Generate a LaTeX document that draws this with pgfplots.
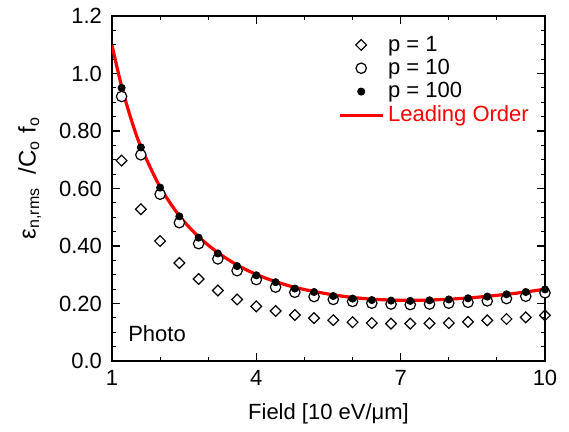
\documentclass[border=0pt]{standalone}
\usepackage{fontspec}
\setmainfont{Liberation Sans}
\usepackage{pgfplots}
\pgfplotsset{compat=1.18}

\begin{document}
\begin{tikzpicture}[font=\fontsize{11}{13}\selectfont]
\begin{axis}[
    scale only axis,
    width=216.5pt, height=172.5pt,
    xmin=1, xmax=10, ymin=0, ymax=1.2,
    xtick={1,4,7,10}, xticklabels={1,4,7,10},
    minor xtick={2,3,5,6,8,9},
    ytick={0,0.2,0.4,0.6,0.8,1.0,1.2},
    yticklabels={0.0,0.20,0.40,0.60,0.80,1.0,1.2},
    minor y tick num=3,
    tick align=inside,
    major tick length=4pt, minor tick length=2pt,
    axis line style={line width=0.75pt},
    tick style={line width=0.6pt, black},
    /pgf/number format/assume math mode=true,
    yticklabel style={xshift=-1.5pt},
    xticklabel style={yshift=-1pt},
    xlabel={Field [10 eV/μm]},
    xlabel style={yshift=-2pt},
    ylabel={ε\textsubscript{n,rms}~ /C\textsubscript{o}~f\textsubscript{o}},
    ylabel style={at={(axis description cs:-0.19,0.53)}, anchor=center,
        font=\fontsize{12}{14}\selectfont},
    legend style={at={(axis cs:5.57,1.16)}, anchor=north west,
        draw=none, fill=none, row sep=-1.5pt},
    legend cell align=left,
    legend image code/.code={%
        \draw[mark repeat=2,mark phase=2,#1]
        plot coordinates {(0cm,0cm) (0.375cm,0cm) (0.75cm,0cm)};},
]
% leading order curve (drawn first, under the markers)
\addplot[red, line width=1.6pt, smooth, forget plot] coordinates {
(1.0,1.098) (1.2,0.955) (1.4,0.840) (1.6,0.745) (2.0,0.605) (2.4,0.505)
(2.8,0.432) (3.2,0.377) (3.6,0.334) (4.0,0.301) (4.4,0.276) (4.8,0.256)
(5.2,0.242) (5.6,0.230) (6.0,0.221) (6.4,0.215) (6.8,0.212) (7.2,0.211)
(7.6,0.212) (8.0,0.215) (8.4,0.219) (8.8,0.225) (9.2,0.232) (9.6,0.240)
(10.0,0.250)};

% p = 1
\addplot[only marks, black, mark=square, mark size=1.9pt,
    mark options={rotate=45, fill=white, line width=0.6pt}] coordinates {
(1.2,0.697) (1.6,0.528) (2.0,0.417) (2.4,0.341) (2.8,0.285) (3.2,0.245)
(3.6,0.214) (4.0,0.190) (4.4,0.174) (4.8,0.160) (5.2,0.149) (5.6,0.142)
(6.0,0.135) (6.4,0.132) (6.8,0.130) (7.2,0.130) (7.6,0.131) (8.0,0.132)
(8.4,0.136) (8.8,0.141) (9.2,0.146) (9.6,0.152) (10.0,0.159)};
\addlegendentry{p = 1}

% p = 10
\addplot[only marks, black, mark=*, mark size=2.6pt,
    mark options={fill=white, draw=black, line width=0.6pt}] coordinates {
(1.2,0.920) (1.6,0.717) (2.0,0.580) (2.4,0.481) (2.8,0.408) (3.2,0.355)
(3.6,0.314) (4.0,0.283) (4.4,0.257) (4.8,0.239) (5.2,0.224) (5.6,0.214)
(6.0,0.207) (6.4,0.201) (6.8,0.198) (7.2,0.196) (7.6,0.198) (8.0,0.201)
(8.4,0.204) (8.8,0.209) (9.2,0.217) (9.6,0.225) (10.0,0.237)};
\addlegendentry{p = 10}

% p = 100
\addplot[only marks, black, mark=*, mark size=1.8pt] coordinates {
(1.2,0.950) (1.6,0.743) (2.0,0.603) (2.4,0.503) (2.8,0.429) (3.2,0.374)
(3.6,0.330) (4.0,0.298) (4.4,0.274) (4.8,0.252) (5.2,0.240) (5.6,0.226)
(6.0,0.217) (6.4,0.212) (6.8,0.210) (7.2,0.209) (7.6,0.211) (8.0,0.214)
(8.4,0.218) (8.8,0.224) (9.2,0.232) (9.6,0.240) (10.0,0.249)};
\addlegendentry{p = 100}

\addlegendimage{red, line width=1.6pt}
\addlegendentry{\textcolor{red}{Leading Order}}

\node[anchor=west, inner sep=0pt] at (axis cs:1.33,0.095) {Photo};
\end{axis}
% keep the reference's margins round the axis
\path (current axis.south west) ++(-56pt,-35.5pt) coordinate (bbl);
\path (current axis.north east) ++(12pt,8pt) coordinate (bbr);
\useasboundingbox (bbl) rectangle (bbr);
\end{tikzpicture}
\end{document}
